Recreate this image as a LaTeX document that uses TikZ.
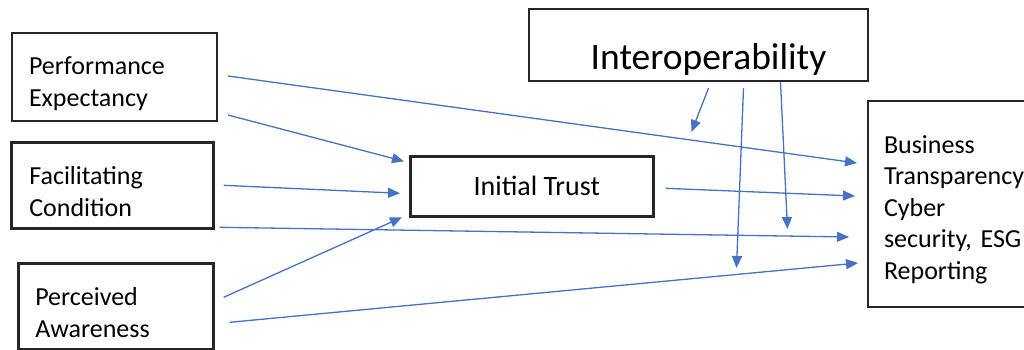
\documentclass[tikz,border=0pt]{standalone}
\usepackage{fontspec}
\setmainfont{Carlito}
\usepackage{tikz}
\usetikzlibrary{calc,arrows.meta}
\definecolor{linkblue}{HTML}{4472C4}
\newcommand\firstpad[1]{\rule{0pt}{#1pt}}
\frenchspacing

\begin{document}
\begin{tikzpicture}[
                x=1pt, y=-1pt,
                box/.style={draw=black!85,line width=2pt,rectangle,anchor=north west,
                    font=\fontsize{26}{31.5}\selectfont},
                leftbox/.style={box,align=left,inner ysep=0pt},
                link/.style={draw=linkblue,line width=1.3pt,-{Triangle[length=12pt,width=10pt]}}
            ]
                \useasboundingbox (0,0) rectangle (1024,349);
                \clip (0,0) rectangle (1024,349);
                \node (pe) [leftbox,minimum width=205pt,minimum height=88pt,inner xsep=17pt,text width=171pt] at (11,32) {\firstpad{31}Performance\\Expectancy};
                \node (fc) [leftbox,line width=2.6pt,minimum width=202pt,minimum height=86pt,inner xsep=18pt,text width=166pt] at (10,141) {\firstpad{31}Facilitating\\Condition};
                \node (pa) [leftbox,line width=2.6pt,minimum width=195pt,minimum height=86pt,inner xsep=17pt,text width=161pt] at (17,262) {\firstpad{31}Perceived\\Awareness};
                \node (it) [box,line width=2.6pt,minimum width=243pt,minimum height=60pt,font=\fontsize{28}{34}\selectfont] at (409,155) {\hspace{10pt}Initial Trust};
                \node (io) [box,minimum width=339pt,minimum height=72pt,text height=48pt,text depth=0pt,font=\fontsize{37.5}{45}\selectfont] at (528,8) {\hspace{20pt}Interoperability};
                \node (bz) [leftbox,minimum width=182pt,minimum height=206pt,inner xsep=16pt,text width=150pt] at (867,100) {\firstpad{29}Business\\Transparency,\\Cyber\\security, ESG\\Reporting};
                \draw[link] ($(pe.east)+(10,-1)$) -- ($(bz.west)+(-10,-41)$);
                \draw[link] ($(pe.east)+(10,38)$) -- ($(it.west)+(-5,-25)$);
                \draw[link] ($(fc.east)+(9,0)$) -- ($(it.west)+(-9,7)$);
                \draw[link] ($(fc.east)+(5,42)$) -- ($(bz.west)+(-18,33)$);
                \draw[link] ($(pa.east)+(9,-9)$) -- ($(it.west)+(-7,31)$);
                \draw[link] ($(pa.east)+(15,16)$) -- ($(bz.west)+(-9,59)$);
                \draw[link] ($(it.east)+(11,2)$) -- ($(bz.west)+(-12,-8)$);
                \draw[link] ($(io.south)+(10,6)$) -- ($(io.south)+(-7,50)$);
                \draw[link] ($(io.south)+(45,6)$) -- ($(io.south)+(38,186)$);
                \draw[link] ($(io.south)+(82,0)$) -- ($(io.south)+(89,147)$);
            \end{tikzpicture}
\end{document}
